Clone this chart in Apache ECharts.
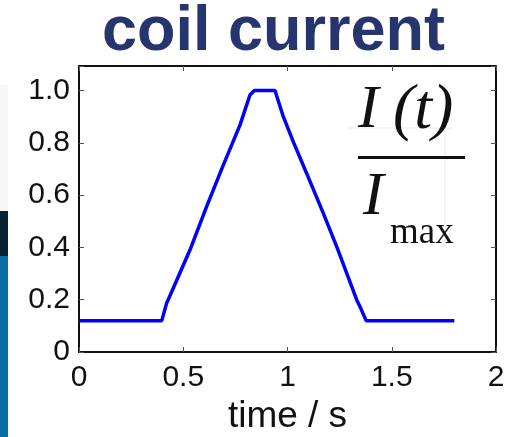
<!DOCTYPE html>
<html>
<head>
<meta charset="utf-8">
<script src="https://cdn.jsdelivr.net/npm/echarts@6/dist/echarts.min.js"></script>
<style>
  html, body { margin: 0; padding: 0; background: #fff; }
  #main { width: 519px; height: 437px; }
</style>
</head>
<body>
<div id="main"></div>
<script>
// coil current, normalised I(t)/Imax vs time
var times  = [0, 0.397, 0.42, 0.452, 0.532, 0.612, 0.692, 0.772, 0.82, 0.841, 0.94, 0.98, 1.028, 1.092, 1.172, 1.236, 1.332, 1.348, 1.377, 1.80];
var values = [0.12, 0.12, 0.186, 0.244, 0.39, 0.556, 0.715, 0.868, 0.983, 1.0, 1.0, 0.90, 0.804, 0.683, 0.53, 0.403, 0.199, 0.173, 0.12, 0.12];
var xTicks = [0, 0.5, 1, 1.5, 2];
var yTicks = [0, 0.2, 0.4, 0.6, 0.8, 1.0];

var pts = [];
for (var i = 0; i < times.length; i++) {
    pts.push([times[i], values[i]]);
}

var labelFont = '"Liberation Sans", Arial, sans-serif';
var mathFont = '"Liberation Serif", "Times New Roman", serif';
var tickStyle = { color: '#555', width: 1 };
var frameStyle = { color: '#111', width: 2 };

var myChart = echarts.init(document.getElementById('main'));

var option = {
    backgroundColor: '#fff',
    animation: false,
    title: {
        text: 'coil current',
        left: 97,
        top: -4,
        textStyle: {
            fontFamily: labelFont,
            fontSize: 63,
            fontWeight: 'bold',
            color: '#27356f'
        }
    },
    grid: { left: 79, right: 23, top: 66, bottom: 85, containLabel: false, outerBoundsMode: 'none' },
    xAxis: [{
        type: 'value',
        min: 0, max: 2, interval: 0.5,
        name: 'time / s',
        nameLocation: 'middle',
        nameGap: 44,
        nameTextStyle: { fontFamily: labelFont, fontSize: 37, color: '#111' },
        axisLine: { onZero: false, lineStyle: frameStyle },
        axisTick: { inside: true, length: 5, lineStyle: tickStyle },
        axisLabel: {
            margin: 11, fontFamily: labelFont, fontSize: 30, color: '#111',
            formatter: function (v) { return xTicks.indexOf(v) >= 0 ? String(v) : ''; }
        },
        splitLine: { show: false }
    }, {
        type: 'value', position: 'top',
        min: 0, max: 2, interval: 0.5,
        axisLine: { onZero: false, lineStyle: frameStyle },
        axisTick: { inside: true, length: 5, lineStyle: tickStyle },
        axisLabel: { show: false },
        splitLine: { show: false }
    }],
    yAxis: [{
        type: 'value',
        min: 0, max: 1.094, interval: 0.2,
        axisLine: { show: true, onZero: false, lineStyle: frameStyle },
        axisTick: { show: true, inside: true, length: 5, lineStyle: tickStyle },
        axisLabel: {
            margin: 9, fontFamily: labelFont, fontSize: 30, color: '#111',
            formatter: function (v) {
                var r = Math.round(v * 10) / 10;
                if (v > 1.01 || yTicks.indexOf(r) < 0) return '';
                return r === 0 ? '0' : r.toFixed(1);
            }
        },
        splitLine: { show: false }
    }, {
        type: 'value', position: 'right',
        min: 0, max: 1.094, interval: 0.2,
        axisLine: { show: true, onZero: false, lineStyle: frameStyle },
        axisTick: { show: true, inside: true, length: 5, lineStyle: tickStyle },
        axisLabel: { show: false },
        splitLine: { show: false }
    }],
    series: [{
        type: 'line',
        data: pts,
        showSymbol: false,
        lineStyle: { color: '#0000ff', width: 3.5 },
        z: 3
    }],
    graphic: [
        // strip of a photo at the left edge
        { type: 'rect', shape: { x: 0, y: 85, width: 8, height: 126 }, style: { fill: '#f6f6f6' } },
        { type: 'rect', shape: { x: 0, y: 211, width: 8, height: 45 }, style: { fill: '#0b2233' } },
        { type: 'rect', shape: { x: 0, y: 256, width: 8, height: 181 }, style: { fill: '#0a6ea6' } },
        // faint guide lines of the pasted formula
        { type: 'line', shape: { x1: 348, y1: 128, x2: 452, y2: 128 }, style: { stroke: '#ececec', lineWidth: 1 } },
        { type: 'line', shape: { x1: 445, y1: 82, x2: 445, y2: 248 }, style: { stroke: '#ececec', lineWidth: 1 } },
        // I(t) / I_max
        { type: 'text', left: 358, top: 80, z: 10,
          style: { text: 'I', font: 'italic 62px ' + mathFont, fill: '#111' } },
        { type: 'text', left: 393, top: 79, z: 10,
          style: { text: '(t)', font: 'italic 64px ' + mathFont, fill: '#111' } },
        { type: 'rect', shape: { x: 358, y: 156, width: 107, height: 3 }, style: { fill: '#111' }, z: 10 },
        { type: 'text', left: 363, top: 167, z: 10,
          style: { text: 'I', font: 'italic 62px ' + mathFont, fill: '#111' } },
        { type: 'text', left: 390, top: 215, z: 10,
          style: { text: 'max', font: '37px ' + mathFont, fill: '#111' } }
    ]
};
myChart.setOption(option);
</script>
</body>
</html>
